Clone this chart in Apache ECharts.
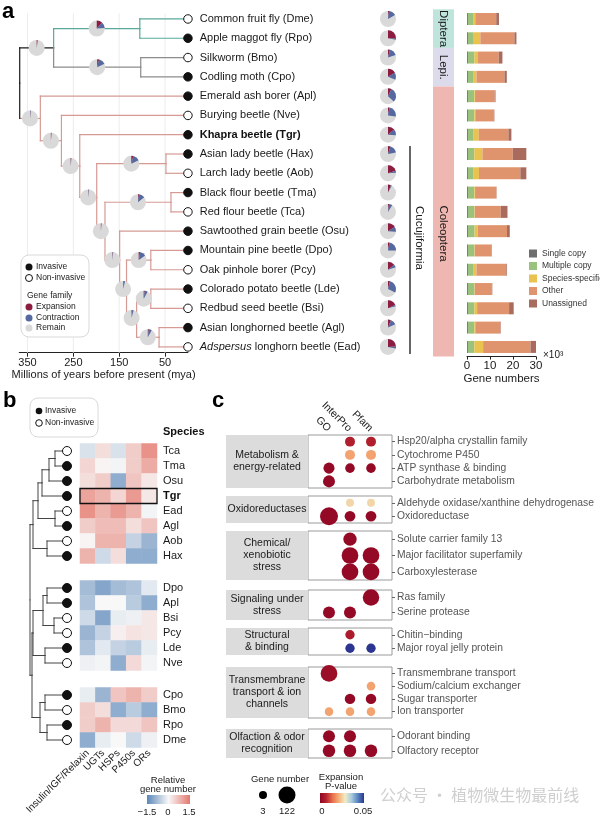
<!DOCTYPE html>
<html>
<head>
<meta charset="utf-8">
<script src="https://cdn.jsdelivr.net/npm/echarts@6.0.0/dist/echarts.min.js"></script>
<style>
html,body{margin:0;padding:0;background:#fff;}
#chart{width:600px;height:818px;}
</style>
</head>
<body>
<div id="chart"></div>
<script>
// ================= DATA: panel a =================
const codesA = ['Dme','Rpo','Bmo','Cpo','Apl','Nve','Tgr','Hax','Aob','Tma','Tca','Osu','Dpo','Pcy','Lde','Bsi','Agl','Ead'];
const speciesA = ['Common fruit fly (Dme)','Apple maggot fly (Rpo)','Silkworm (Bmo)','Codling moth (Cpo)','Emerald ash borer (Apl)','Burying beetle (Nve)','Khapra beetle (Tgr)','Asian lady beetle (Hax)','Larch lady beetle (Aob)','Black flour beetle (Tma)','Red flour beetle (Tca)','Sawtoothed grain beetle (Osu)','Mountain pine beetle (Dpo)','Oak pinhole borer (Pcy)','Colorado potato beetle (Lde)','Redbud seed beetle (Bsi)','Asian longhorned beetle (Agl)','Adspersus longhorn beetle (Ead)'];
const invasiveA = [0,1,0,1,1,0,1,1,0,1,0,1,1,0,1,0,1,0];
const tipExp = [0.02,0.26,0.04,0.17,0.07,0.03,0.14,0.05,0.20,0.06,0.02,0.16,0.03,0.14,0.04,0.18,0.06,0.24];
const tipCon = [0.15,0.02,0.16,0.14,0.30,0.24,0.12,0.17,0.04,0.02,0.07,0.10,0.22,0.06,0.28,0.03,0.12,0.04];
// internal nodes of the time tree
const nodeNames  = ['root','DL','Dip','Lep','Col','N1','N2','N3','HA','N4','TT','N5','N6','DP','N7','LB','AE'];
const nodeParent = [null,'root','DL','DL','root','Col','N1','N2','N3','N3','N4','N4','N5','N6','N6','N7','N7'];
const nodeAge    = [367,293,105,103,322,276,236,199,48,181,37,149,134,81,112,81,63];
const nodeExp    = [0,0.01,0.12,0.04,0.006,0.008,0.008,0.008,0.04,0.008,0.02,0.008,0.01,0.03,0.01,0.02,0.02];
const nodeCon    = [0,0.015,0.12,0.14,0.01,0.01,0.01,0.01,0.14,0.01,0.12,0.01,0.03,0.12,0.03,0.06,0.06];
const tipParent  = ['Dip','Dip','Lep','Lep','Col','N1','N2','HA','HA','TT','TT','N5','DP','DP','LB','LB','AE','AE'];
const treeTicks = [350,250,150,50];
// orders
const orderNames = ['Diptera','Lepi.','Coleoptera'];
const orderStart = [0,2,4];
const orderEnd   = [1,3,17];
const orderColors = ['#bfe4dc','#dcdbeb','#efb7b2'];
const cladeRows = [7,17]; // Cucujiformia
// gene numbers (x10^3)
const barNames = ['Single copy','Multiple copy','Species-specific','Other','Unassigned'];
const barColors = ['#6e6e6e','#9bc27d','#e9c24f','#e0946d','#a86b5e'];
const singleCopy   = [0.4,0.4,0.4,0.4,0.4,0.4,0.4,0.4,0.4,0.4,0.4,0.4,0.4,0.4,0.4,0.4,0.4,0.4];
const multipleCopy = [2.5,2.2,2.8,2.5,2.8,2.8,2.5,2.8,2.5,2.8,2.8,2.9,2.8,2.5,2.8,2.8,2.8,2.8];
const speciesSpec  = [0.7,3.2,1.6,1.2,0.3,0.4,2.2,3.5,2.3,0.3,0.2,1.3,0.2,1.2,0.2,1.2,0.4,3.8];
const otherGenes   = [9.1,14.8,9.0,12.2,8.5,8.0,12.9,13.2,18.0,9.3,11.3,12.8,7.2,13.0,7.4,13.9,10.9,20.6];
const unassigned   = [1.2,0.9,1.6,1.0,0.4,0.3,1.3,5.9,2.6,0.1,2.9,1.2,0.2,0.3,0.2,2.0,0.2,2.6];

// ================= DATA: panel b =================
const bLeaves = ['Tca','Tma','Osu','Tgr','Ead','Agl','Aob','Hax','Dpo','Apl','Bsi','Pcy','Lde','Nve','Cpo','Bmo','Rpo','Dme'];
const bGroupSizes = [8,6,4];
const bInvasive = [0,1,1,1,0,1,0,1,1,1,0,0,1,0,1,0,1,0];
const heatCols = ['Insulin/IGF/Relaxin','UGTs','HSPs','P450s','ORs'];
const heatValues = [
  [-0.3, 0.3,-0.3, 0.5, 1.2],
  [ 0.4, 0.05,-0.05,0.5, 0.9],
  [ 0.3, 0.5,-1.0, 0.6, 0.2],
  [ 1.0, 0.8, 0.4, 1.1, 0.2],
  [ 1.2, 0.8, 1.1, 0.8,-0.05],
  [ 0.5, 0.7, 0.7, 0.3, 0.6],
  [ 0.05,0.8, 0.8,-0.5,-0.9],
  [ 0.8,-0.4, 0.3,-1.0,-1.0],
  [-0.8,-1.1,-0.8,-0.7,-0.2],
  [-0.7, 0.0, 0.0,-0.6,-1.0],
  [-0.4,-1.1,-0.15,-0.1,0.2],
  [-0.9,-0.5, 0.1, 0.25,0.2],
  [-0.7,-0.2,-0.5,-0.6,-0.15],
  [-0.1,-0.05,-1.0,0.35,-0.05],
  [-0.15,-0.9,0.6, 0.8, 0.5],
  [ 0.5, 0.3,-1.0,-0.6,-1.0],
  [ 0.5, 0.8, 0.35,0.35,0.6],
  [-1.0,-0.15,0.0,-0.4,-0.1]
];
const bNodes      = ['n1','n2','n3','n4','n5','n6','n7','m1','m2','m3','m4','m5','k1','k2','k3','r1','root'];
const bNodeParent = ['n2','n3','n5','n5','n7','n7','root','m3','m3','m5','m5','r1','k3','k3','r1','root',null];
const bNodeHeight = [12,18,25,12,29,20,34,20,13,24,22,34,22,20,27,35,37];
const bLeafParent = ['n1','n1','n2','n3','n4','n4','n6','n6','m1','m1','m2','m2','m4','m4','k1','k1','k2','k2'];

// ================= DATA: panel c =================
const cGroupNames = ['Metabolism &\nenergy-related','Oxidoreductases','Chemical/\nxenobiotic\nstress','Signaling under\nstress','Structural\n& binding','Transmembrane\ntransport & ion\nchannels','Olfaction & odor\nrecognition'];
const cTerms = [
  ['Hsp20/alpha crystallin family','Cytochrome P450','ATP synthase & binding','Carbohydrate metabolism'],
  ['Aldehyde oxidase/xanthine dehydrogenase','Oxidoreductase'],
  ['Solute carrier family 13','Major facilitator superfamily','Carboxylesterase'],
  ['Ras family','Serine protease'],
  ['Chitin\u2212binding','Major royal jelly protein'],
  ['Transmembrane transport','Sodium/calcium exchanger','Sugar transporter','Ion transporter'],
  ['Odorant binding','Olfactory receptor']
];
const dbNames = ['GO','InterPro','Pfam'];
// [group, term index, database index, gene number, expansion p-value]
const cDots = [
  [0,0,1,29,0.006],[0,0,2,29,0.006],[0,1,1,29,0.02],[0,1,2,29,0.02],[0,2,0,43,0.001],[0,2,1,23,0.001],[0,2,2,23,0.001],[0,3,0,56,0.001],
  [1,0,1,3,0.026],[1,0,2,3,0.026],[1,1,0,135,0.001],[1,1,1,39,0.001],[1,1,2,39,0.001],
  [2,0,1,73,0.001],[2,1,1,118,0.001],[2,1,2,118,0.001],[2,2,1,118,0.001],[2,2,2,118,0.001],
  [3,0,2,115,0.001],[3,1,0,56,0.001],[3,1,1,56,0.001],
  [4,0,1,21,0.005],[4,1,1,21,0.05],[4,1,2,21,0.05],
  [5,0,0,118,0.002],[5,1,2,10,0.02],[5,2,1,36,0.001],[5,2,2,36,0.001],[5,3,0,10,0.02],[5,3,1,10,0.02],[5,3,2,10,0.02],
  [6,0,0,56,0.001],[6,0,1,56,0.001],[6,1,0,63,0.001],[6,1,1,63,0.001],[6,1,2,63,0.001]
];
const geneLegend = [3,122];
const pPalette = ['#8e0624','#b82430','#e8704a','#f5b07a','#f1ecc4','#a8cce0','#5a86c0','#2c3590'];
const heatPalette = ['#5b87b9','#f8f8f8','#e4786e'];

// ================= STYLE / LAYOUT =================
const FONT = 'Liberation Sans, Arial, Helvetica, sans-serif';
const TXT = '#1a1a1a';
const expColor = '#8c1d40', conColor = '#55689f', remColor = '#d9d9d9';
const cladeColors = ['#1a1a1a','#5aa99b','#8c8c8c','#d59a94'];
const treeYMin = -0.6, treeYMax = 17.3;

// ---------- tree computations (panel a) ----------
const yA = {}; codesA.forEach((c,i)=>{ yA[c]=i; });
function parentA(n){ const j=nodeNames.indexOf(n); return j>=0 ? nodeParent[j] : tipParent[codesA.indexOf(n)]; }
function ageA(n){ const j=nodeNames.indexOf(n); return j>=0 ? nodeAge[j] : 0; }
function childrenA(n){ return nodeNames.filter((m,j)=>nodeParent[j]===n).concat(codesA.filter((c,j)=>tipParent[j]===n)); }
function calcYA(n){ if(n in yA) return yA[n]; const ys=childrenA(n).map(calcYA); yA[n]=ys.reduce((a,b)=>a+b,0)/ys.length; return yA[n]; }
calcYA('root');
function cladeA(n){ let cur=n; while(cur){ if(cur==='Dip') return 1; if(cur==='Lep') return 2; if(cur==='Col') return 3; cur=parentA(cur);} return 0; }
const treeSegs = [];
const nodePies = [];
nodeNames.filter(n=>n!=='root').concat(codesA).forEach(n=>{
  const par = parentA(n); const cl = cladeA(n);
  treeSegs.push([ageA(par), yA[n], ageA(n), yA[n], cl]);
  treeSegs.push([ageA(par), yA[par], ageA(par), yA[n], par==='root'?0:cl]);
});
nodeNames.forEach((n,j)=>{ if(n==='root') return; const par=parentA(n); nodePies.push([(ageA(par)+ageA(n))/2, yA[n], nodeExp[j], nodeCon[j]]); });

function pieGroup(c, e, k, r){
  const a0=-Math.PI/2, a1=a0+e*2*Math.PI, a2=a1+k*2*Math.PI;
  return {type:'group', children:[
    {type:'circle', shape:{cx:c[0],cy:c[1],r:r}, style:{fill:remColor}},
    {type:'sector', shape:{cx:c[0],cy:c[1],r:r,r0:0,startAngle:a0,endAngle:a1,clockwise:true}, style:{fill:expColor}},
    {type:'sector', shape:{cx:c[0],cy:c[1],r:r,r0:0,startAngle:a1,endAngle:a2,clockwise:true}, style:{fill:conColor}}
  ]};
}

// ---------- dendrogram computations (panel b) ----------
const heatRowH = 15, heatTop = 443.5, heatGap = 17;
const groupTop = []; let accTop = heatTop;
bGroupSizes.forEach(s=>{ groupTop.push(accTop); accTop += s*heatRowH + heatGap; });
const dendH = groupTop[2] + bGroupSizes[2]*heatRowH - heatTop;
const yB = {};
let leafIdx = 0;
bGroupSizes.forEach((s,g)=>{ for(let r=0;r<s;r++){ yB[bLeaves[leafIdx]] = (groupTop[g]-heatTop)/heatRowH + r + 0.5; leafIdx++; } });
function parentB(n){ const j=bNodes.indexOf(n); return j>=0 ? bNodeParent[j] : bLeafParent[bLeaves.indexOf(n)]; }
function heightB(n){ const j=bNodes.indexOf(n); return j>=0 ? bNodeHeight[j] : 0; }
function childrenB(n){ return bNodes.filter((m,j)=>bNodeParent[j]===n).concat(bLeaves.filter((c,j)=>bLeafParent[j]===n)); }
function calcYB(n){ if(n in yB) return yB[n]; const ys=childrenB(n).map(calcYB); yB[n]=ys.reduce((a,b)=>a+b,0)/ys.length; return yB[n]; }
calcYB('root');
const dendSegs = [];
bNodes.filter(n=>n!=='root').concat(bLeaves).forEach(n=>{
  const par=parentB(n);
  dendSegs.push([heightB(par), yB[n], heightB(n), yB[n]]);
  dendSegs.push([heightB(par), yB[par], heightB(par), yB[n]]);
});

// ================= BUILD OPTION =================
const grids=[], xAxes=[], yAxes=[], series=[];
function hiddenAxis(extra){ return Object.assign({show:false, splitLine:{show:false}, axisLine:{show:false, onZero:false}}, extra); }

// grid 0 : tree
grids.push({left:19.25, top:7.4, width:168.7, height:345.3});
xAxes.push({gridIndex:0, type:'value', inverse:true, min:0, max:368,
  axisLine:{show:true, onZero:false, lineStyle:{color:'#222', width:1}},
  axisTick:{show:true, customValues:treeTicks, length:4, lineStyle:{color:'#222'}},
  axisLabel:{customValues:treeTicks, fontSize:11, color:TXT, margin:5, fontFamily:FONT},
  splitLine:{show:false},
  name:'Millions of years before present (mya)', nameLocation:'middle', nameGap:17,
  nameTextStyle:{fontSize:11, color:TXT, fontFamily:FONT}});
yAxes.push(hiddenAxis({gridIndex:0, type:'value', inverse:true, min:treeYMin, max:treeYMax}));
// grid 1 : side annotations (pies, clade bracket, orders)
grids.push({left:370, top:7.4, width:100, height:345.3});
xAxes.push(hiddenAxis({gridIndex:1, type:'value', min:0, max:100}));
yAxes.push(hiddenAxis({gridIndex:1, type:'value', inverse:true, min:treeYMin, max:treeYMax}));
// grid 2 : bars
grids.push({left:467, top:9.35, width:69, height:347.2});
xAxes.push({gridIndex:2, type:'value', min:0, max:30, interval:10,
  axisLine:{show:true, onZero:false, lineStyle:{color:'#222'}}, axisTick:{show:true, length:3, lineStyle:{color:'#222'}},
  axisLabel:{fontSize:11.5, color:TXT, margin:3, fontFamily:FONT}, splitLine:{show:false},
  name:'Gene numbers', nameLocation:'middle', nameGap:16, nameTextStyle:{fontSize:11.5, color:TXT, fontFamily:FONT}});
yAxes.push(hiddenAxis({gridIndex:2, type:'category', inverse:true, data:codesA}));

// series: gridlines
series.push({type:'custom', xAxisIndex:0, yAxisIndex:0, clip:false, silent:true, z:1,
  data: treeTicks.map(v=>[v, 0]),
  renderItem:(p,api)=>{ const a=api.coord([api.value(0), treeYMin]); const b=api.coord([api.value(0), treeYMax]);
    return {type:'line', shape:{x1:a[0],y1:a[1]+6,x2:b[0],y2:b[1]}, style:{stroke:'#ececec', lineWidth:1}}; }});
// tree segments
series.push({type:'custom', xAxisIndex:0, yAxisIndex:0, clip:false, silent:true, z:3,
  data: treeSegs,
  renderItem:(p,api)=>{ const a=api.coord([api.value(0),api.value(1)]); const b=api.coord([api.value(2),api.value(3)]);
    return {type:'line', shape:{x1:a[0],y1:a[1],x2:b[0],y2:b[1]}, style:{stroke:cladeColors[api.value(4)], lineWidth:1.2, lineCap:'square'}}; }});
// internal node pies
series.push({type:'custom', xAxisIndex:0, yAxisIndex:0, clip:false, silent:true, z:4,
  data: nodePies,
  renderItem:(p,api)=> pieGroup(api.coord([api.value(0),api.value(1)]), api.value(2), api.value(3), 8)});
// tips
series.push({type:'scatter', xAxisIndex:0, yAxisIndex:0, clip:false, z:5, symbol:'circle', symbolSize:8.5,
  itemStyle:{opacity:1},
  data: codesA.map((c,i)=>({value:[0,i], itemStyle:{color: invasiveA[i]?'#111':'#fff', borderColor:'#111', borderWidth:1, opacity:1}})),
  label:{show:true, position:'right', distance:7, fontSize:11, color:TXT, fontFamily:FONT,
    formatter:p=>{ const n=speciesA[p.dataIndex]; if(codesA[p.dataIndex]==='Tgr') return '{b|'+n+'}';
      if(n.indexOf('Adspersus')===0) return '{i|Adspersus}'+n.slice(9); return n; },
    rich:{b:{fontWeight:'bold', fontSize:11, color:'#111', fontFamily:FONT}, i:{fontStyle:'italic', fontSize:11, color:TXT, fontFamily:FONT}}}});
// tip pies
series.push({type:'custom', xAxisIndex:1, yAxisIndex:1, clip:false, silent:true,
  data: codesA.map((c,i)=>[18, i, tipExp[i], tipCon[i]]),
  renderItem:(p,api)=> pieGroup(api.coord([api.value(0),api.value(1)]), api.value(2), api.value(3), 8)});
// order bands
series.push({type:'custom', xAxisIndex:1, yAxisIndex:1, clip:false, silent:true,
  data: orderNames.map((n,i)=>[orderStart[i], orderEnd[i], i]),
  renderItem:(p,api)=>{ const a=api.coord([63, api.value(0)-0.5]); const b=api.coord([84, api.value(1)+0.5]); const i=api.value(2);
    const ty = i===2 ? (a[1]+b[1])/2+12 : (a[1]+b[1])/2;
    return {type:'group', children:[
      {type:'rect', shape:{x:a[0], y:a[1], width:b[0]-a[0], height:b[1]-a[1]}, style:{fill:orderColors[i]}},
      {type:'text', x:(a[0]+b[0])/2, y:ty, rotation:-Math.PI/2,
        style:{text:orderNames[i], align:'center', verticalAlign:'middle', fontSize:11.5, fill:TXT, fontFamily:FONT}}]}; }});
// clade bracket
series.push({type:'custom', xAxisIndex:1, yAxisIndex:1, clip:false, silent:true,
  data: [[cladeRows[0], cladeRows[1]]],
  renderItem:(p,api)=>{ const a=api.coord([40, api.value(0)-0.42]); const b=api.coord([40, api.value(1)+0.37]);
    return {type:'group', children:[
      {type:'line', shape:{x1:a[0],y1:a[1],x2:b[0],y2:b[1]}, style:{stroke:'#333', lineWidth:1.5}},
      {type:'text', x:a[0]+9, y:(a[1]+b[1])/2-12, rotation:-Math.PI/2,
        style:{text:'Cucujiformia', align:'center', verticalAlign:'middle', fontSize:11.5, fill:TXT, fontFamily:FONT}}]}; }});
// stacked bars
const barArrays = [singleCopy, multipleCopy, speciesSpec, otherGenes, unassigned];
barNames.forEach((n,k)=>{
  series.push({type:'bar', name:n, xAxisIndex:2, yAxisIndex:2, stack:'genes', barWidth:12,
    itemStyle:{color:barColors[k]}, data: barArrays[k]});
});

// ---------- panel b ----------
const heatSeriesIdx = [];
let offset = 0;
bGroupSizes.forEach((s,g)=>{
  const gi = grids.length;
  grids.push({left:80, top:groupTop[g], width:77, height:s*heatRowH});
  const leaves = bLeaves.slice(offset, offset+s);
  xAxes.push({gridIndex:gi, type:'category', data:heatCols, show: g===2,
    axisLine:{show:false, onZero:false}, axisTick:{show:false}, splitLine:{show:false},
    axisLabel:{rotate:45, fontSize:10, color:TXT, margin:4, interval:0, fontFamily:FONT}});
  yAxes.push({gridIndex:gi, type:'category', data:leaves, inverse:true, position:'right',
    axisLine:{show:false, onZero:false}, axisTick:{show:false}, splitLine:{show:false},
    axisLabel:{fontSize:11, color:TXT, margin:6, interval:0, fontFamily:FONT,
      formatter:v=> v==='Tgr' ? '{b|Tgr}' : v, rich:{b:{fontWeight:'bold', fontSize:11, color:'#111', fontFamily:FONT}}}});
  const data=[];
  leaves.forEach((lf,r)=>{ heatCols.forEach((c,ci)=>{ data.push([ci, r, heatValues[offset+r][ci]]); }); });
  heatSeriesIdx.push(series.length);
  series.push({type:'heatmap', xAxisIndex:gi, yAxisIndex:gi, data:data, itemStyle:{borderWidth:0}, silent:true});
  if(g===0){
    const tgrRow = leaves.indexOf('Tgr');
    series.push({type:'custom', xAxisIndex:gi, yAxisIndex:gi, clip:false, silent:true, z:5,
      data:[[0, tgrRow]],
      renderItem:(p,api)=>{ const c=api.coord([api.value(0), api.value(1)]); const sz=api.size([1,1]);
        return {type:'rect', shape:{x:c[0]-sz[0]/2, y:c[1]-sz[1]/2, width:sz[0]*heatCols.length, height:sz[1]},
          style:{fill:'none', stroke:'#111', lineWidth:1.3}}; }});
  }
  offset += s;
});
// dendrogram grid
const dgi = grids.length;
grids.push({left:28, top:heatTop, width:39, height:dendH});
xAxes.push(hiddenAxis({gridIndex:dgi, type:'value', inverse:true, min:0, max:39}));
yAxes.push(hiddenAxis({gridIndex:dgi, type:'value', inverse:true, min:0, max:dendH/heatRowH}));
series.push({type:'custom', xAxisIndex:dgi, yAxisIndex:dgi, clip:false, silent:true,
  data: dendSegs,
  renderItem:(p,api)=>{ const a=api.coord([api.value(0),api.value(1)]); const b=api.coord([api.value(2),api.value(3)]);
    return {type:'line', shape:{x1:a[0],y1:a[1],x2:b[0],y2:b[1]}, style:{stroke:'#444', lineWidth:1, lineCap:'square'}}; }});
series.push({type:'scatter', xAxisIndex:dgi, yAxisIndex:dgi, clip:false, symbolSize:9, z:5, silent:true,
  itemStyle:{opacity:1},
  data: bLeaves.map((l,i)=>({value:[0, yB[l]], itemStyle:{color: bInvasive[i]?'#111':'#fff', borderColor:'#111', borderWidth:1, opacity:1}}))});

// ---------- panel c ----------
const cTop = [435,496,531,590,628,667,729];
const cH   = [53,27,49,30,27,51,29];
const dotSeriesIdx = [];
cTerms.forEach((terms,g)=>{
  const gi = grids.length;
  grids.push({left:308, top:cTop[g], width:84, height:cH[g], show:true, borderColor:'#9a9a9a', borderWidth:1, backgroundColor:'#fff'});
  xAxes.push({gridIndex:gi, type:'value', min:-1, max:3, interval:1, show: g===0, position:'top',
    axisLine:{show:false, onZero:false}, axisTick:{show:false}, splitLine:{show:false},
    axisLabel:{formatter:v=> dbNames[v]||'', rotate:45, fontSize:10.5, color:TXT, margin:5, fontFamily:FONT}});
  yAxes.push({gridIndex:gi, type:'category', data:terms, inverse:true, position:'right',
    axisLine:{show:false, onZero:false}, axisTick:{show:true, alignWithLabel:true, length:3, lineStyle:{color:'#666'}},
    splitLine:{show:false}, axisLabel:{fontSize:10.3, color:'#555', margin:5, interval:0, fontFamily:FONT}});
  dotSeriesIdx.push(series.length);
  series.push({type:'scatter', xAxisIndex:gi, yAxisIndex:gi, clip:false, silent:true,
    itemStyle:{opacity:1},
    symbolSize: v => 8 + (v[2]-geneLegend[0])/(geneLegend[1]-geneLegend[0])*9,
    data: cDots.filter(d=>d[0]===g).map(d=>[d[2], terms[d[1]], d[3], d[4]])});
});

// ---------- graphics (panel letters, legends, group boxes) ----------
function T(x,y,text,st){ return {type:'text', x:x, y:y, silent:true, z:50,
  style:Object.assign({text:text, fill:TXT, fontSize:11, fontFamily:FONT, align:'left', verticalAlign:'middle'}, st||{})}; }
function C(cx,cy,r,fill,stroke){ return {type:'circle', silent:true, z:50, shape:{cx:cx,cy:cy,r:r}, style:{fill:fill, stroke:stroke||null, lineWidth:1}}; }
const g = [];
g.push(T(2,12,'a',{fontSize:22, fontWeight:'bold', fill:'#000'}));
g.push(T(3,401,'b',{fontSize:22, fontWeight:'bold', fill:'#000'}));
g.push(T(212,401,'c',{fontSize:22, fontWeight:'bold', fill:'#000'}));
// panel a legend
g.push({type:'rect', silent:true, z:49, shape:{x:21,y:255,width:68,height:82,r:8}, style:{fill:'#fff', stroke:'#d9d9d9', lineWidth:1}});
g.push(C(29,267,3.5,'#111')); g.push(T(36,267,'Invasive',{fontSize:8.5}));
g.push(C(29,278,3.5,'#fff','#111')); g.push(T(36,278,'Non-invasive',{fontSize:8.5}));
g.push(T(27,296,'Gene family',{fontSize:8.5}));
g.push(C(29,307,3.5,expColor)); g.push(T(36,307,'Expansion',{fontSize:8.5}));
g.push(C(29,318,3.5,conColor)); g.push(T(36,318,'Contraction',{fontSize:8.5}));
g.push(C(29,328,3.5,remColor)); g.push(T(36,328,'Remain',{fontSize:8.5}));
g.push(T(543,355,'\u00d710\u00b3',{fontSize:10}));
// panel b legend
g.push({type:'rect', silent:true, z:49, shape:{x:30,y:398,width:68,height:39,r:8}, style:{fill:'#fff', stroke:'#d9d9d9', lineWidth:1}});
g.push(C(39,411,3.3,'#111')); g.push(T(45,411,'Invasive',{fontSize:8.5}));
g.push(C(39,423,3.3,'#fff','#111')); g.push(T(45,423,'Non-invasive',{fontSize:8.5}));
g.push(T(163,432,'Species',{fontSize:11, fontWeight:'bold', fill:'#111'}));
// heat legend
g.push(T(168,780,'Relative',{fontSize:9.5, align:'center'}));
g.push(T(168,789,'gene number',{fontSize:9.5, align:'center'}));
g.push({type:'rect', silent:true, z:50, shape:{x:147,y:795,width:43,height:9},
  style:{fill:new echarts.graphic.LinearGradient(0,0,1,0, heatPalette.map((c,i)=>({offset:i/(heatPalette.length-1), color:c})))}});
g.push(T(147,812,'\u22121.5',{fontSize:9.5, align:'center'}));
g.push(T(168,812,'0',{fontSize:9.5, align:'center'}));
g.push(T(189,812,'1.5',{fontSize:9.5, align:'center'}));
// panel c group boxes
cGroupNames.forEach((n,i)=>{
  g.push({type:'rect', silent:true, z:40, shape:{x:226,y:cTop[i],width:82,height:cH[i]}, style:{fill:'#dcdcdc'}});
  g.push(T(267, cTop[i]+cH[i]/2, n, {fontSize:10.5, align:'center', lineHeight:12}));
});
// gene number legend
g.push(T(280,779,'Gene number',{fontSize:9.5, align:'center'}));
geneLegend.forEach((v,i)=>{
  const d = 8 + (v-geneLegend[0])/(geneLegend[1]-geneLegend[0])*9;
  const cx = i===0 ? 263 : 287;
  g.push(C(cx,795,d/2,'#000'));
  g.push(T(cx,811,String(v),{fontSize:9.5, align:'center'}));
});
// p-value legend
g.push(T(341,777,'Expansion',{fontSize:9.5, align:'center'}));
g.push(T(341,786,'P-value',{fontSize:9.5, align:'center'}));
g.push({type:'rect', silent:true, z:50, shape:{x:320,y:793,width:44,height:10},
  style:{fill:new echarts.graphic.LinearGradient(0,0,1,0, pPalette.map((c,i)=>({offset:i/(pPalette.length-1), color:c})))}});
g.push(T(322,811,'0',{fontSize:9.5, align:'center'}));
g.push(T(363,811,'0.05',{fontSize:9.5, align:'center'}));
// watermark
g.push(T(380,795,'\u516c\u4f17\u53f7 \u00b7 \u690d\u7269\u5fae\u751f\u7269\u6700\u524d\u7ebf',{fontSize:16, fill:'#cfcfcf', fontFamily:'Noto Sans CJK SC, sans-serif'}));

const option = {
  animation:false,
  backgroundColor:'#fff',
  textStyle:{fontFamily:FONT},
  grid:grids, xAxis:xAxes, yAxis:yAxes, series:series,
  legend:{data:barNames, orient:'vertical', left:529, top:249, itemWidth:8, itemHeight:8, itemGap:3.5, icon:'rect',
    selectedMode:false, padding:0, textStyle:{fontSize:8.5, color:'#333', fontFamily:FONT}},
  visualMap:[
    {type:'continuous', show:false, seriesIndex:heatSeriesIdx, dimension:2, min:-1.5, max:1.5, inRange:{color:heatPalette}},
    {type:'continuous', show:false, seriesIndex:dotSeriesIdx, dimension:3, min:0, max:0.05, inRange:{color:pPalette}}
  ],
  graphic:g
};
const chart = echarts.init(document.getElementById('chart'), null, {renderer:'canvas', width:600, height:818});
chart.setOption(option);
</script>
</body>
</html>
